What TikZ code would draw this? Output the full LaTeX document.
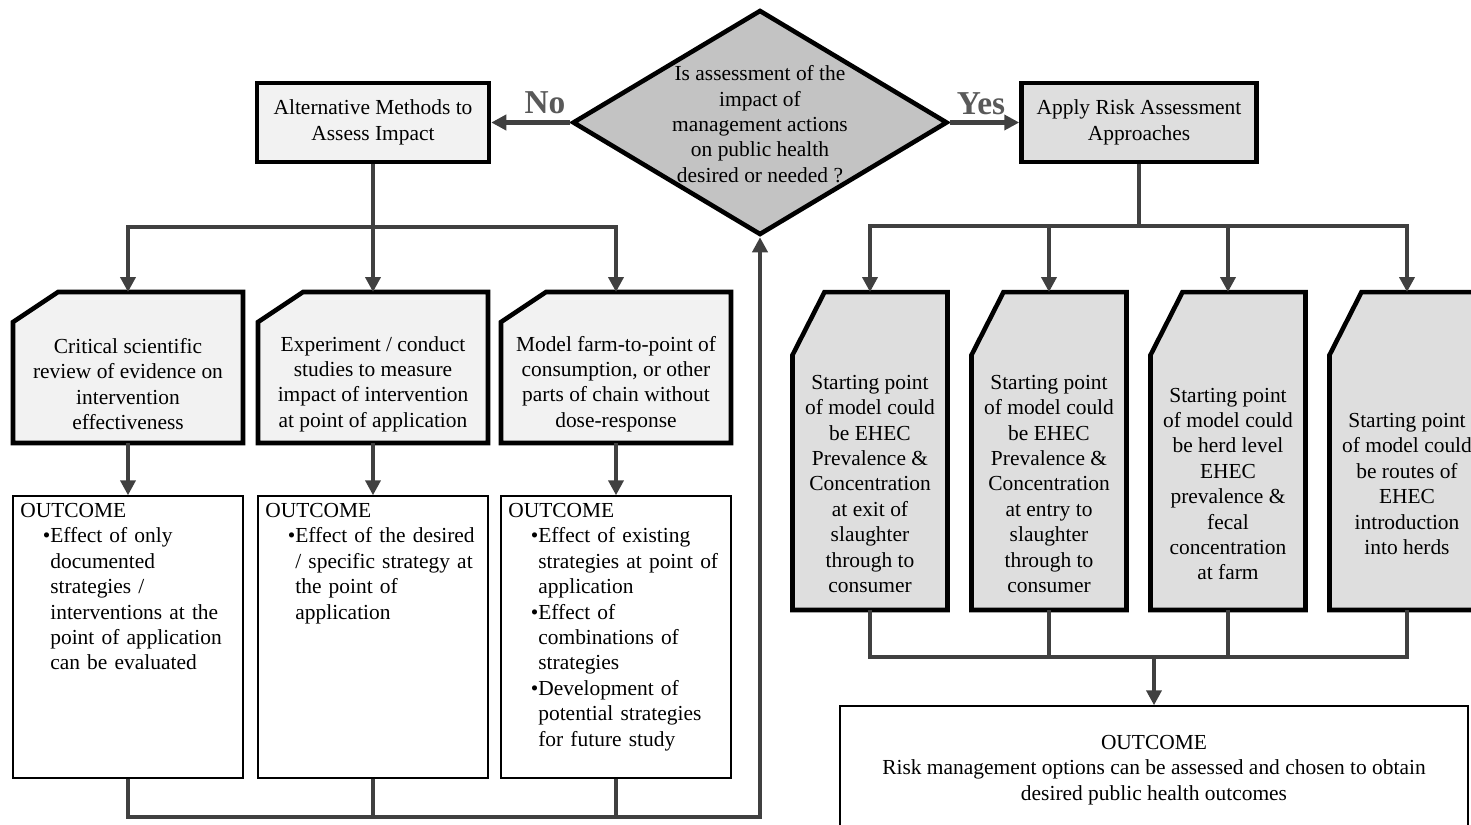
\documentclass[tikz,border=0pt]{standalone}
\usepackage{fontspec}
\setmainfont{Liberation Serif}
\usetikzlibrary{arrows.meta,calc,shapes.geometric}
\definecolor{linegray}{HTML}{404040}
\definecolor{labelgray}{HTML}{595959}
\definecolor{lightfill}{HTML}{F2F2F2}
\definecolor{midfill}{HTML}{DEDEDE}
\definecolor{qfill}{HTML}{C3C3C3}

\begin{document}
\begin{tikzpicture}[x=0.02cm, y=-0.02cm,
    font=\fontsize{12.2}{14.45}\selectfont,
    line/.style={line width=2.4pt, draw=linegray},
    arrow/.style={line, -{Triangle[length=0.3cm,width=0.3cm]}},
    border/.style={line width=2.6pt, draw=black},
    qbox/.style={diamond, border, fill=qfill, minimum width=7.5cm, minimum height=4.5cm, inner sep=0pt},
    lbox/.style={rectangle, border, fill=lightfill, minimum width=4.64cm, minimum height=1.58cm, align=center},
    rbox/.style={rectangle, border, fill=midfill, minimum width=4.7cm, minimum height=1.58cm, align=center},
    lcard/.style={rectangle, minimum width=4.6cm, minimum height=3.02cm, inner sep=0pt, outer sep=0pt},
    rcard/.style={rectangle, minimum width=3.1cm, minimum height=6.36cm, inner sep=0pt, outer sep=0pt},
    lshape/.style={border, fill=lightfill},
    rshape/.style={border, fill=midfill},
    ctext/.style={align=center, inner sep=0pt},
    obox/.style={rectangle, draw=black, line width=0.85pt, fill=white, minimum width=4.6cm, minimum height=5.64cm},
    otext/.style={anchor=north west, inner sep=0pt, text width=5cm, align=left},
    yesno/.style={font=\fontsize{19}{22}\selectfont\bfseries, text=labelgray, inner sep=0pt}]
    \useasboundingbox (0,0) rectangle (1471,825);

    \node[qbox] (q) at (760,122.5) {};
    \node[ctext] (qt) at (760,124) {Is assessment of the\\impact of\\management actions\\on public health\\desired or needed ?};
    \node[lbox] (alt) at (373,122.5) {Alternative Methods to\\Assess Impact};
    \node[rbox] (apply) at (1139,122.5) {Apply Risk Assessment\\Approaches};
    \node[yesno] (no) at (545,103) {No};
    \node[yesno] (yes) at (981,104) {Yes};
    \draw[arrow] (q.west) -- (alt.east);
    \draw[arrow] (q.east) -- (apply.west);

    \node[lcard] (lc1) at (128,367.5) {};
    \node[lcard] (lc2) at (373,367.5) {};
    \node[lcard] (lc3) at (616,367.5) {};
    \draw[lshape] ($(lc1.north west)+(0,30)$) -- ($(lc1.north west)+(45,0)$) -- (lc1.north east) -- (lc1.south east) -- (lc1.south west) -- cycle;
    \draw[lshape] ($(lc2.north west)+(0,30)$) -- ($(lc2.north west)+(45,0)$) -- (lc2.north east) -- (lc2.south east) -- (lc2.south west) -- cycle;
    \draw[lshape] ($(lc3.north west)+(0,30)$) -- ($(lc3.north west)+(45,0)$) -- (lc3.north east) -- (lc3.south east) -- (lc3.south west) -- cycle;
    \node[ctext] (lt1) at (128,384) {Critical scientific\\review of evidence on\\intervention\\effectiveness};
    \node[ctext] (lt2) at (373,384) {Experiment / conduct\\studies to measure\\impact of intervention\\at point of application};
    \node[ctext] (lt3) at (616,384) {Model farm-to-point of\\consumption, or other\\parts of chain without\\dose-response};

    \coordinate (lbus) at (373,227);
    \draw[line] (alt.south) -- (lbus);
    \draw[arrow] (lbus) -| (lc1.north);
    \draw[arrow] (lbus) -- (lc2.north);
    \draw[arrow] (lbus) -| (lc3.north);

    \node[obox] (lo1) at (128,637) {};
    \node[obox] (lo2) at (373,637) {};
    \node[obox] (lo3) at (616,637) {};
    \draw[arrow] (lc1) -- (lo1);
    \draw[arrow] (lc2) -- (lo2);
    \draw[arrow] (lc3) -- (lo3);
    \node[otext] (ot1) at (20,503) {\noindent OUTCOME\par\leftskip=0.6cm
        \noindent\llap{\textbullet}Effect of only\\documented\\strategies /\\interventions at the\\point of application\\can be evaluated\par};
    \node[otext] (ot2) at (265,503) {\noindent OUTCOME\par\leftskip=0.6cm
        \noindent\llap{\textbullet}Effect of the desired\\/ specific strategy at\\the point of\\application\par};
    \node[otext] (ot3) at (508,503) {\noindent OUTCOME\par\leftskip=0.6cm
        \noindent\llap{\textbullet}Effect of existing\\strategies at point of\\application\\
        \noindent\llap{\textbullet}Effect of\\combinations of\\strategies\\
        \noindent\llap{\textbullet}Development of\\potential strategies\\for future study\par};

    \coordinate (lret) at (760,817);
    \draw[arrow] (lo1.south) |- (lret) -- (q.south);
    \draw[line] (lo2.south) -- (lo2.south |- lret);
    \draw[line] (lo3.south) -- (lo3.south |- lret);

    \node[rcard] (rc1) at (870,451) {};
    \node[rcard] (rc2) at (1049,451) {};
    \node[rcard] (rc3) at (1228,451) {};
    \node[rcard] (rc4) at (1407,451) {};
    \draw[rshape] ($(rc1.north west)+(0,63)$) -- ($(rc1.north west)+(32,0)$) -- (rc1.north east) -- (rc1.south east) -- (rc1.south west) -- cycle;
    \draw[rshape] ($(rc2.north west)+(0,63)$) -- ($(rc2.north west)+(32,0)$) -- (rc2.north east) -- (rc2.south east) -- (rc2.south west) -- cycle;
    \draw[rshape] ($(rc3.north west)+(0,63)$) -- ($(rc3.north west)+(32,0)$) -- (rc3.north east) -- (rc3.south east) -- (rc3.south west) -- cycle;
    \draw[rshape] ($(rc4.north west)+(0,63)$) -- ($(rc4.north west)+(32,0)$) -- (rc4.north east) -- (rc4.south east) -- (rc4.south west) -- cycle;
    \node[ctext] (rt1) at (870,484) {Starting point\\of model could\\be EHEC\\Prevalence \&\\Concentration\\at exit of\\slaughter\\through to\\consumer};
    \node[ctext] (rt2) at (1049,484) {Starting point\\of model could\\be EHEC\\Prevalence \&\\Concentration\\at entry to\\slaughter\\through to\\consumer};
    \node[ctext] (rt3) at (1228,484) {Starting point\\of model could\\be herd level\\EHEC\\prevalence \&\\fecal\\concentration\\at farm};
    \node[ctext] (rt4) at (1407,484) {Starting point\\of model could\\be routes of\\EHEC\\introduction\\into herds};

    \coordinate (rbus) at (1139,226);
    \draw[line] (apply.south) -- (rbus);
    \draw[arrow] (rbus) -| (rc1.north);
    \draw[arrow] (rbus) -| (rc2.north);
    \draw[arrow] (rbus) -| (rc3.north);
    \draw[arrow] (rbus) -| (rc4.north);

    \node[rectangle, draw=black, line width=0.85pt, minimum width=12.56cm, minimum height=2.56cm, align=center] (rob) at (1154,770) {OUTCOME\\Risk management options can be assessed and chosen to obtain\\desired public health outcomes};
    \coordinate (rjoin) at (1154,657);
    \draw[line] (rc1.south) |- (rc4.south |- rjoin) -- (rc4.south);
    \draw[line] (rc2.south) -- (rc2.south |- rjoin);
    \draw[line] (rc3.south) -- (rc3.south |- rjoin);
    \draw[arrow] (rjoin) -- (rob.north);
\end{tikzpicture}
\end{document}
